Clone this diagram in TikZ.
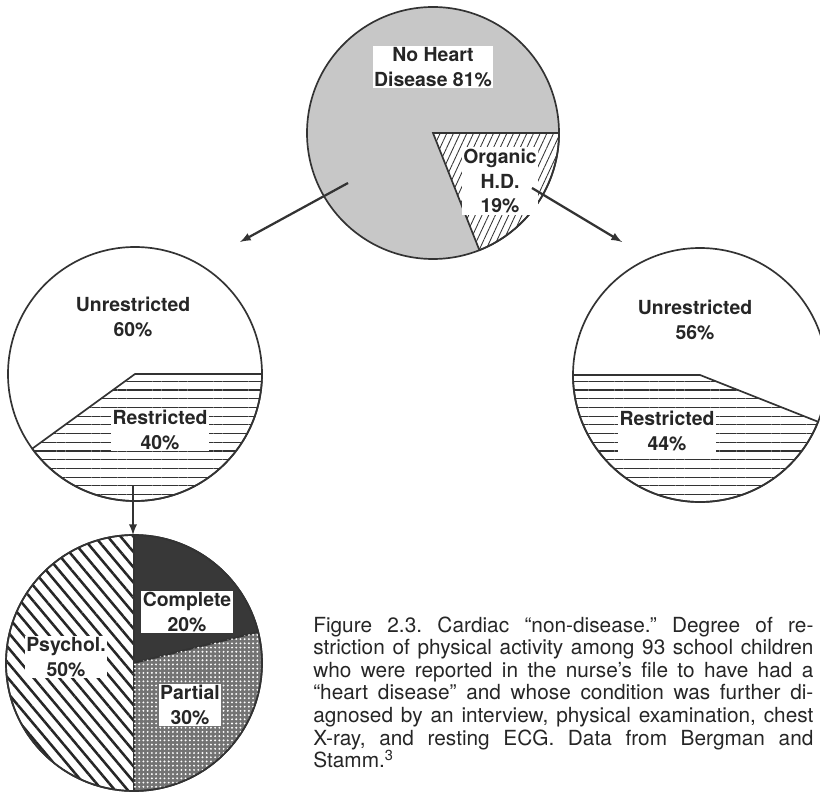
\documentclass[tikz,border=0pt]{standalone}
\usepackage{fontspec}
\setmainfont{TeX Gyre Heros}
\usetikzlibrary{patterns.meta}
\frenchspacing

\tikzset{
  pie/.style={line width=1.2pt, draw=black!80},
  lbl/.style={font=\fontsize{13.8}{17.5}\selectfont\bfseries, align=center,
              fill=white, inner sep=1.2pt, text=black!85},
  hlines/.style={pattern={Lines[angle=0,distance=6.2pt,line width=0.8pt]}, pattern color=black!80},
  arr/.style={->, line width=1.6pt, black!80}
}

\begin{document}
\begin{tikzpicture}[x=0.025cm, y=0.025cm, >=latex]

\useasboundingbox (0,0) rectangle (820,791);

% centres of the four pies
\coordinate (top) at (433,658);
\coordinate (left) at (135,417);
\coordinate (right) at (700,416);
\coordinate (bot) at (134,128);

% top pie
\fill[black!22] (top) circle (126);
\draw[pie, fill=white, postaction={pattern={Lines[angle=65,distance=4.3pt,line width=0.6pt]}, pattern color=black!80}]
  (top) -- ++(0:126) arc (0:-68.4:126) -- cycle;
\draw[pie] (top) circle (126);

% left pie
\draw[pie, fill=white, postaction={hlines}] (left) -- ++(0:127) arc (0:-144:127) -- cycle;
\draw[pie] (left) circle (127);

% right pie
\draw[pie, fill=white, postaction={hlines}] (right) -- ++(180:127) arc (180:338.4:127) -- cycle;
\draw[pie] (right) circle (127);

% bottom pie
\draw[pie, fill=white, postaction={pattern={Lines[angle=-50,distance=7pt,line width=1.8pt]}, pattern color=black!85}]
  (bot) -- ++(90:128) arc (90:270:128) -- cycle;
\draw[pie, fill=black!78] (bot) -- ++(90:128) arc (90:14:128) -- cycle;
\draw[pie, fill=black!55, postaction={pattern={Dots[distance=3pt,radius=0.75pt]}, pattern color=white}]
  (bot) -- ++(14:128) arc (14:-90:128) -- cycle;
\draw[pie] (bot) circle (128);

% labels
\node[lbl] (nohd) at (433,724) {No Heart\\Disease 81\%};
\node[lbl] (orghd) at (500,610) {Organic\\H.D.\\19\%};
\node[lbl] (unl) at (133,474) {Unrestricted\\60\%};
\node[lbl] (resl) at (160,361) {Restricted\\40\%};
\node[lbl] (unr) at (695,471) {Unrestricted\\56\%};
\node[lbl] (resr) at (667,360) {Restricted\\44\%};
\node[lbl] (compl) at (187,179) {Complete\\20\%};
\node[lbl] (psy) at (66,134) {Psychol.\\50\%};
\node[lbl] (part) at (190,86) {Partial\\30\%};

% arrows
\coordinate (t1) at (348,608); \coordinate (l1) at (240,549);
\coordinate (t2) at (532,603); \coordinate (r1) at (622,549);
\coordinate (l2) at (133,306); \coordinate (b1) at (133,256);
\draw[arr] (t1) -- (l1);
\draw[arr] (t2) -- (r1);
\draw[arr] (l2) -- (b1);

% caption
\node[anchor=base west, inner sep=0pt, text=black!85,
      font=\fontsize{14.8}{16.1}\selectfont] (cap) at (313,159) {\parbox[t]{12.5cm}{%
\makebox[\linewidth][s]{Figure 2.3. Cardiac ``non-disease.'' Degree of re-}\\
\makebox[\linewidth][s]{striction of physical activity among 93 school children}\\
\makebox[\linewidth][s]{who were reported in the nurse's file to have had a}\\
\makebox[\linewidth][s]{``heart disease'' and whose condition was further di-}\\
\makebox[\linewidth][s]{agnosed by an interview, physical examination, chest}\\
\makebox[\linewidth][s]{X-ray, and resting ECG. Data from Bergman and}\\
Stamm.\textsuperscript{3}}};

\end{tikzpicture}
\end{document}
